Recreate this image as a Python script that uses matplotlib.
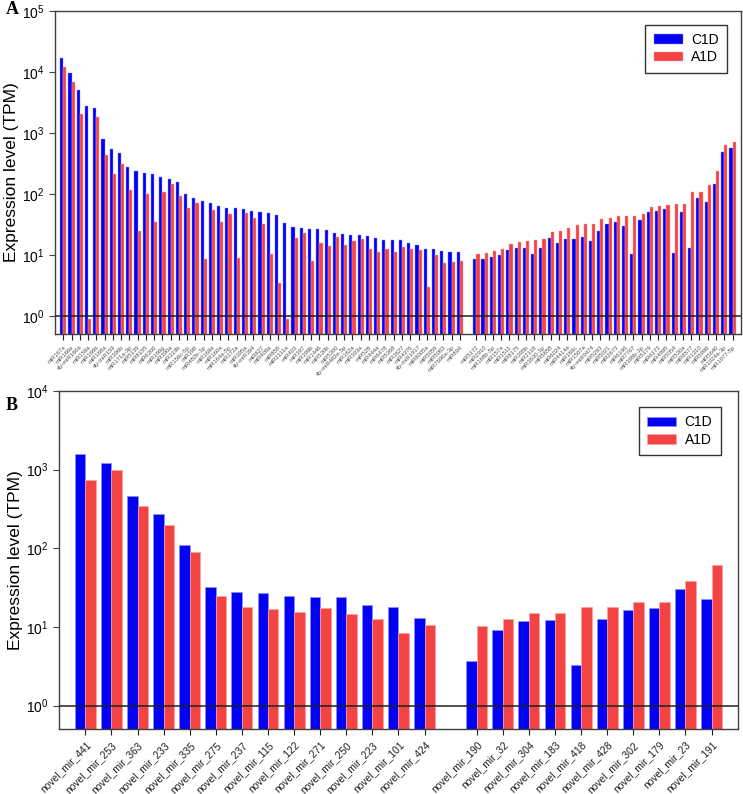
import numpy as np
import matplotlib
matplotlib.use("Agg")
import matplotlib.pyplot as plt

plt.rcParams['font.family'] = ['Liberation Sans', 'DejaVu Sans']
plt.rcParams['mathtext.default'] = 'regular'

# Panel A: known miRNAs (left group: higher in C1D, right group: higher in A1D)
a_left_names = ["miR167a", "miR166e", "sly-miR166a", "miR159a", "miR166b", "miR168a",
                "sly-miR159", "miR396b", "miR171a-3p", "miR5139", "miR8155", "miR6300",
                "miR166g", "miR390a", "miR319b", "miR156c-5p", "miR398", "miR482b-3p",
                "miR169a", "miR160a", "miR164a-5p", "miR172a", "miR395a", "sly-miR394",
                "miR827", "miR408a", "miR858", "miR2111a", "miR403", "miR397",
                "miR399b", "miR1446", "miR530b", "miR5300", "sly-miR482e-5p", "miR162a",
                "miR393a", "miR528", "miR444a", "miR6478", "miR5368", "miR3627",
                "miR4376", "sly-miR1917", "miR8005a", "miR5059", "miR5083", "miR7696a-3p",
                "miR894"]
a_left_c1d = [16600, 9400, 5000, 2700, 2570, 780, 550, 475, 270, 238, 220, 210, 187, 178,
              154, 100, 84, 77, 70, 63, 59, 58, 57, 53, 50, 49, 45, 33, 29, 27.4, 26.7,
              26.7, 26, 23, 21.9, 21.2, 21.2, 20.3, 18.6, 17.4, 17.2, 17.2, 15.9, 14.6,
              12.3, 12.3, 11.4, 11.2, 11.0]
a_left_a1d = [11800, 6700, 2000, 0.9, 1830, 430, 208, 303, 115, 24.5, 101, 34, 109, 145,
              93, 58, 70, 8.7, 55, 34, 46, 9, 48, 40, 32, 10.2, 3.4, 0.88, 19, 23, 7.9,
              15.7, 14.2, 19.3, 14.6, 16.7, 17.9, 12.5, 11.3, 12.4, 11.3, 13.5, 12.5, 12.1,
              3.0, 9.9, 7.4, 7.7, 7.96]

a_right_names = ["miR5172", "miR2910", "miR168b-5p", "miR157a", "miR1511", "miR8175",
                 "miR395b", "miR2118", "miR3630-3p", "miR5658", "miR6024", "miR4414a",
                 "miR169c", "miR1507a", "sly-miR9474", "miR5293", "miR5021", "miR2673",
                 "miR6196", "miR7767", "miR398b-3p", "miR5179", "miR6173", "miR4995",
                 "miR5054", "miR530a", "miR8577", "miR1310", "miR5998", "miR5640",
                 "miR1024a-3p", "miR1077-5p"]
a_right_c1d = [8.5, 8.7, 9.3, 9.8, 11.9, 13.2, 12.9, 10.4, 12.9, 18.8, 15.5, 17.9, 18.1,
               19.8, 16.6, 24.5, 32.6, 34.4, 29.9, 10.5, 37.6, 50.6, 52.7, 55.5, 10.7, 50,
               12.9, 85, 73, 144, 480, 565]
a_right_a1d = [10.2, 10.8, 11.5, 12.7, 15.0, 16.3, 16.9, 17.2, 18.3, 23.8, 24.5, 27.6,
               30.3, 31.6, 32.6, 38.5, 40, 42.7, 43.6, 43.6, 46.5, 60, 63.5, 65.8, 67, 67,
               107, 107, 139, 238, 620, 705]

# Panel B: novel miRNAs
b_left_names = ["novel_mir_441", "novel_mir_253", "novel_mir_363", "novel_mir_233",
                "novel_mir_335", "novel_mir_275", "novel_mir_237", "novel_mir_115",
                "novel_mir_122", "novel_mir_271", "novel_mir_250", "novel_mir_223",
                "novel_mir_101", "novel_mir_424"]
b_left_c1d = [1590, 1217, 458, 274, 110, 32.5, 28.2, 26.8, 24.6, 24.0, 23.8, 19.0, 18.1, 13.0]
b_left_a1d = [745, 980, 349, 198, 91, 24.6, 17.8, 16.7, 15.7, 17.3, 14.7, 12.6, 8.4, 10.7]

b_right_names = ["novel_mir_190", "novel_mir_32", "novel_mir_304", "novel_mir_183",
                 "novel_mir_418", "novel_mir_428", "novel_mir_302", "novel_mir_179",
                 "novel_mir_23", "novel_mir_191"]
b_right_c1d = [3.7, 9.2, 11.8, 12.2, 3.3, 12.6, 16.3, 17.2, 30.4, 22.5]
b_right_a1d = [10.4, 12.8, 15.0, 15.1, 17.8, 18.2, 20.6, 20.8, 37.9, 62]

blue = '#0000F5'
red = '#F44343'
spine_col = '#404040'


def draw_panel(ax, left_names, left_c, left_a, right_names, right_c, right_a,
               width, ytop, lab_size, lab_col, edge_lw, leg_anchor):
    nl = len(left_names)
    xl = np.arange(nl)
    xr = np.arange(len(right_names)) + nl + 1
    x = np.concatenate([xl, xr])
    c1d = list(left_c) + list(right_c)
    a1d = list(left_a) + list(right_a)
    names = list(left_names) + list(right_names)

    ax.bar(x - width / 2, c1d, width, color=blue, edgecolor='#9090ff',
           linewidth=edge_lw, label='C1D', zorder=2)
    ax.bar(x + width / 2, a1d, width, color=red, edgecolor='#ffa0a0',
           linewidth=edge_lw, label='A1D', zorder=2)
    ax.set_yscale('log')
    ax.set_ylim(0.5, ytop)
    ax.set_xlim(-1, x[-1] + 1)
    ax.axhline(1, color='#202020', lw=1.1, zorder=3)

    ax.set_xticks(x)
    ax.set_xticklabels(names, rotation=45, ha='right', rotation_mode='anchor',
                       fontsize=lab_size, color=lab_col)
    ax.yaxis.set_minor_locator(matplotlib.ticker.NullLocator())
    ax.tick_params(axis='y', labelsize=10, length=4, direction='out', color=spine_col)
    ax.tick_params(axis='x', length=4, direction='out', color='#202020')
    for s in ax.spines.values():
        s.set_color(spine_col)
        s.set_linewidth(1.0)
    ax.set_ylabel('Expression level (TPM)', fontsize=12.5, labelpad=2)
    leg = ax.legend(loc='upper right', fontsize=10, frameon=True, fancybox=False,
                    edgecolor='black', handlelength=2.1, handleheight=0.7,
                    handletextpad=0.6, borderpad=0.6, labelspacing=0.25,
                    borderaxespad=0, bbox_to_anchor=leg_anchor)
    leg.get_frame().set_linewidth(1.0)


fig = plt.figure(figsize=(7.43, 7.94), dpi=100)
ax_a = fig.add_axes([0.074, 0.579, 0.923, 0.4075])
ax_b = fig.add_axes([0.0798, 0.0815, 0.913, 0.426])

draw_panel(ax_a, a_left_names, a_left_c1d, a_left_a1d,
           a_right_names, a_right_c1d, a_right_a1d,
           0.38, 1e5, 4.2, '#505050', 0.3, (0.98, 0.957))
draw_panel(ax_b, b_left_names, b_left_c1d, b_left_a1d,
           b_right_names, b_right_c1d, b_right_a1d,
           0.4, 1e4, 7.4, '#202020', 0.5, (0.975, 0.953))

fig.text(0.008, 0.982, 'A', family='Liberation Serif', fontweight='bold', fontsize=13)
fig.text(0.008, 0.484, 'B', family='Liberation Serif', fontweight='bold', fontsize=13)

fig.savefig('out.png', dpi=100)
